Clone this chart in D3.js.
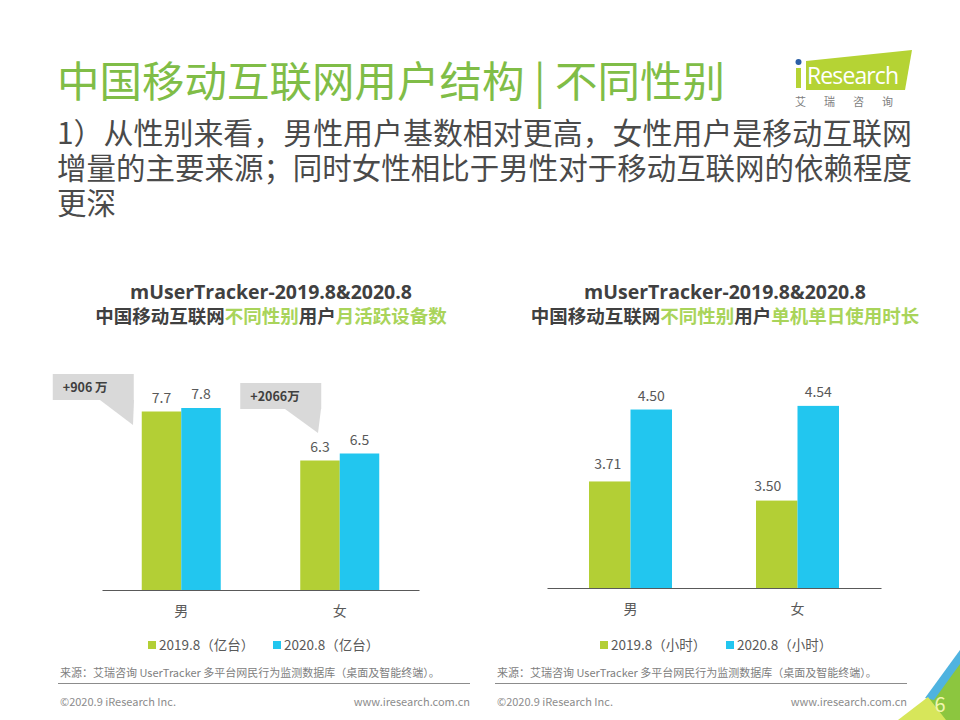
<!DOCTYPE html>
<html><head><meta charset="utf-8">
<script src="https://cdn.jsdelivr.net/npm/d3@7/dist/d3.min.js"></script>
<style>
html,body{margin:0;padding:0;background:#fff;}
svg{display:block;font-family:"Noto Sans CJK SC","Noto Sans",sans-serif;}
</style></head>
<body>
<script>
// ---- data ----
const categories = ["男", "女"];
const seriesNames = ["2019.8", "2020.8"];
const devicesValues = [[7.7, 6.3], [7.8, 6.5]];          // 亿台 [series][category]
const devicesLabels = [["7.7", "6.3"], ["7.8", "6.5"]];
const durationValues = [[3.71, 3.50], [4.50, 4.54]];     // 小时
const durationLabels = [["3.71", "3.50"], ["4.50", "4.54"]];
const devicesLegend = ["2019.8（亿台）", "2020.8（亿台）"];
const durationLegend = ["2019.8（小时）", "2020.8（小时）"];
const callouts = ["+906 万", "+2066万"];
const pageTitle = "中国移动互联网用户结构 | 不同性别";
const subtitleLines = ["1）从性别来看，男性用户基数相对更高，女性用户是移动互联网",
  "增量的主要来源；同时女性相比于男性对于移动互联网的依赖程度", "更深"];

const GREEN = "#b3cf35", BLUE = "#22c6ef", TXT = "#595959";
const W = 960, H = 720;
const svg = d3.select("body").append("svg").attr("width", W).attr("height", H);

// header
svg.append("text").attr("x", 57).attr("y", 97).attr("font-size", 42.5)
  .attr("fill", "#80bd47").text(pageTitle);
subtitleLines.forEach((t, i) => {
  const tx = svg.append("text").attr("x", 57).attr("y", 144 + i * 35).attr("font-size", 29.5)
    .attr("fill", "#4a4a4a").text(t);
  if (i < 2) tx.attr("textLength", 855).attr("lengthAdjust", "spacingAndGlyphs");
});

// logo
const logo = svg.append("g");
logo.append("polygon").attr("points", "806,61 912,50 905,90 806,90").attr("fill", "#b5d334");
logo.append("rect").attr("x", 796).attr("y", 68).attr("width", 5).attr("height", 20).attr("fill", "#b5d334");
logo.append("circle").attr("cx", 798.5).attr("cy", 62).attr("r", 3).attr("fill", "#2b5fa6");
logo.append("text").attr("x", 807).attr("y", 84).attr("font-size", 23).attr("fill", "#fff")
  .attr("font-family", "'Open Sans',sans-serif").attr("textLength", 92).text("Research");
logo.append("text").attr("x", 795).attr("y", 106).attr("font-size", 11).attr("fill", "#808080")
  .attr("letter-spacing", "18px").text("艾瑞咨询");

function chart(cfg) {
  const g = svg.append("g");
  // titles
  g.append("text").attr("x", cfg.cx).attr("y", 299).attr("text-anchor", "middle")
    .attr("font-size", 19.5).attr("font-weight", "bold").attr("fill", "#404040")
    .attr("font-family", "'Open Sans','Noto Sans',sans-serif")
    .text("mUserTracker-2019.8&2020.8");
  const t2 = g.append("text").attr("x", cfg.cx).attr("y", 323).attr("text-anchor", "middle")
    .attr("font-size", 18.5).attr("font-weight", "bold");
  cfg.title2.forEach(([s, hl]) => t2.append("tspan").attr("fill", hl ? "#a9d45a" : "#404040").text(s));

  const x = d3.scaleBand().domain(categories).range(cfg.xr);
  const xs = d3.scaleBand().domain(seriesNames).range([-cfg.bw, cfg.bw]);
  const y = d3.scaleLinear().domain(cfg.yd).range(cfg.yr);
  const color = d3.scaleOrdinal().domain(seriesNames).range([GREEN, BLUE]);

  seriesNames.forEach((s, si) => {
    categories.forEach((c, ci) => {
      const v = cfg.values[si][ci];
      const bx = x(c) + x.bandwidth() / 2 + xs(s);
      g.append("rect").attr("x", bx).attr("y", y(v)).attr("width", xs.bandwidth())
        .attr("height", y(cfg.yd[0]) - y(v)).attr("fill", color(s));
      g.append("text").attr("x", bx + xs.bandwidth() / 2 + (cfg.lblDx ? cfg.lblDx[si][ci] : 0))
        .attr("y", y(v) - (cfg.lblDy ? cfg.lblDy[si][ci] : 9))
        .attr("text-anchor", "middle").attr("font-size", 14).attr("fill", TXT)
        .text(cfg.labels[si][ci]);
    });
  });
  // axis
  const ax = g.append("g").attr("transform", `translate(0,${cfg.yr[0]})`)
    .call(d3.axisBottom(x).tickSize(0).tickPadding(16));
  ax.select(".domain").attr("stroke", "#595959").attr("stroke-width", 1.2);
  ax.selectAll("text").attr("font-size", 14).attr("fill", TXT)
    .attr("font-family", "'Noto Sans CJK SC',sans-serif");
  // legend
  cfg.legend.forEach((t, i) => {
    const lx = cfg.legX[i];
    g.append("rect").attr("x", lx).attr("y", 641).attr("width", 8).attr("height", 8).attr("fill", color(seriesNames[i]));
    g.append("text").attr("x", lx + 11).attr("y", 650).attr("font-size", 13.5).attr("fill", TXT).text(t);
  });
  // footer
  g.append("text").attr("x", cfg.fx0).attr("y", 677).attr("font-size", 11).attr("fill", "#808080")
    .text("来源：艾瑞咨询 UserTracker 多平台网民行为监测数据库（桌面及智能终端）。");
  g.append("line").attr("x1", cfg.fx0 - 2).attr("x2", cfg.fx1).attr("y1", 683.5).attr("y2", 683.5)
    .attr("stroke", "#8c8c8c").attr("stroke-width", 1);
  g.append("text").attr("x", cfg.fx0).attr("y", 706).attr("font-size", 11).attr("fill", "#8c8c8c")
    .text("©2020.9 iResearch Inc.");
  g.append("text").attr("x", cfg.fx1).attr("y", 706).attr("font-size", 11).attr("fill", "#8c8c8c")
    .attr("text-anchor", "end").text("www.iresearch.com.cn");
  return { x, xs, y };
}

const L = chart({
  cx: 271, title2: [["中国移动互联网", 0], ["不同性别", 1], ["用户", 0], ["月活跃设备数", 1]],
  xr: [102, 419], bw: 39.5, yd: [2.6, 10], yr: [590, 331],
  values: devicesValues, labels: devicesLabels,
  legend: devicesLegend, legX: [148, 273], fx0: 60, fx1: 470
});
const R = chart({
  cx: 725, title2: [["中国移动互联网", 0], ["不同性别", 1], ["用户", 0], ["单机单日使用时长", 1]],
  xr: [547, 881], bw: 41.5, yd: [2.54, 5], yr: [588, 364],
  values: durationValues, labels: durationLabels,
  lblDx: [[-2, -9], [0, 0]], lblDy: [[12, 10], [9, 9]],
  legend: durationLegend, legX: [600, 726], fx0: 497, fx1: 907
});

// callouts (left chart)
const cl = svg.append("g");
const boxes = [
  { c: "男", dx: -89, w: 81, top: 374, tail: [[100, 400], [133, 425], [134, 400]] },
  { c: "女", dx: -60, w: 81, top: 383, tail: [[285, 409], [318, 433], [321, 409]] }
];
boxes.forEach((b, i) => {
  const left = L.x(b.c) + L.x.bandwidth() / 2 - L.xs.bandwidth() + b.dx;
  cl.append("rect").attr("x", left).attr("y", b.top).attr("width", b.w).attr("height", 26).attr("fill", "#d9d9d9");
  cl.append("polygon").attr("points", b.tail.map(p => p.join(",")).join(" ")).attr("fill", "#d9d9d9");
  cl.append("text").attr("x", left + 10).attr("y", b.top + 18).attr("font-size", 12.5)
    .attr("font-weight", "bold").attr("fill", "#404040").text(callouts[i]);
});

// corner decoration
const dec = svg.append("g");
dec.append("polygon").attr("points", "912,720 960,662 960,720").attr("fill", "#8cc63f");
dec.append("polygon").attr("points", "925,698 960,650 960,664 934,700").attr("fill", "#4fb3e0");
dec.append("polygon").attr("points", "898,720 928,697 946,720").attr("fill", "#d7e65a");
dec.append("text").attr("x", 940).attr("y", 712).attr("text-anchor", "middle").attr("font-size", 20)
  .attr("fill", "#f2f5b0").text("6");
</script>
</body></html>
